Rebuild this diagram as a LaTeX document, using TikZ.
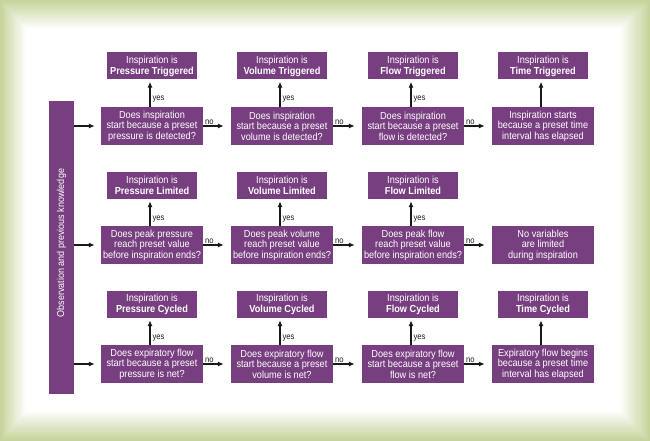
\documentclass[tikz,border=0pt]{standalone}
\usepackage{fontspec}
\setmainfont{Liberation Sans}[FakeStretch=0.9]
\usetikzlibrary{arrows.meta}
\definecolor{purp}{RGB}{119,63,127}
\definecolor{bggreen}{RGB}{196,212,154}
\definecolor{arrcol}{RGB}{25,25,25}
\begin{document}
\begin{tikzpicture}[x=1pt,y=-1pt,
  qbox/.style={fill=purp, text=white, minimum width=102pt, minimum height=38pt, inner sep=0.5pt, align=center, font=\fontsize{10.2}{10.4}\selectfont},
  rbox/.style={fill=purp, text=white, minimum width=90pt, minimum height=27pt, inner sep=0.5pt, align=center, font=\fontsize{10.2}{10.8}\selectfont},
  barbox/.style={fill=purp, minimum width=25pt, minimum height=293pt, inner sep=0pt},
  arr/.style={draw=arrcol, -{Latex[length=6pt,width=5pt]}, line width=1.1pt},
  lab/.style={text=arrcol, font=\fontsize{8.5}{8.5}\selectfont, inner sep=1pt}]
\useasboundingbox (0,0) rectangle (650,441);
% background
\fill[bggreen] (0,0) rectangle (650,441);
\foreach \i in {0,...,29}{
  \pgfmathtruncatemacro\p{100-\i*100/29}
  \fill[bggreen!\p!white] (\i*0.9,\i*1.0) rectangle (650-\i*1.05,441-\i*1.05);
}
% side bar
\node[barbox] (bar) at (61.5,247.5) {};
\node[rotate=90, text=white, font=\fontsize{10}{10}\selectfont, inner sep=0pt] (bartext) at (61.5,243) {Observation and previous knowledge};
% row 1
\node[qbox] (q1a) at (152,126) {Does inspiration\\start because a preset\\pressure is detected?};
\node[qbox] (q1b) at (282,126) {Does inspiration\\start because a preset\\volume is detected?};
\node[qbox] (q1c) at (413,126) {Does inspiration\\start because a preset\\flow is detected?};
\node[qbox] (q1d) at (543,126) {Inspiration starts\\because a preset time\\interval has elapsed};
\node[rbox] (r1a) at (152,66) {Inspiration is\\\textbf{Pressure Triggered}};
\node[rbox] (r1b) at (282,66) {Inspiration is\\\textbf{Volume Triggered}};
\node[rbox] (r1c) at (413,66) {Inspiration is\\\textbf{Flow Triggered}};
\node[rbox] (r1d) at (543,66) {Inspiration is\\\textbf{Time Triggered}};
% row 2
\node[qbox] (q2a) at (152,245) {Does peak pressure\\reach preset value\\before inspiration ends?};
\node[qbox] (q2b) at (282,245) {Does peak volume\\reach preset value\\before inspiration ends?};
\node[qbox] (q2c) at (413,245) {Does peak flow\\reach preset value\\before inspiration ends?};
\node[qbox] (q2d) at (543,245) {No variables\\are limited\\during inspiration};
\node[rbox] (r2a) at (152,185.5) {Inspiration is\\\textbf{Pressure Limited}};
\node[rbox] (r2b) at (282,185.5) {Inspiration is\\\textbf{Volume Limited}};
\node[rbox] (r2c) at (413,185.5) {Inspiration is\\\textbf{Flow Limited}};
% row 3
\node[qbox] (q3a) at (152,364) {Does expiratory flow\\start because a preset\\pressure is net?};
\node[qbox] (q3b) at (282,364) {Does expiratory flow\\start because a preset\\volume is net?};
\node[qbox] (q3c) at (413,364) {Does expiratory flow\\start because a preset\\flow is net?};
\node[qbox] (q3d) at (543,364) {Expiratory flow begins\\because a preset time\\interval has elapsed};
\node[rbox] (r3a) at (152,304.5) {Inspiration is\\\textbf{Pressure Cycled}};
\node[rbox] (r3b) at (282,304.5) {Inspiration is\\\textbf{Volume Cycled}};
\node[rbox] (r3c) at (413,304.5) {Inspiration is\\\textbf{Flow Cycled}};
\node[rbox] (r3d) at (543,304.5) {Inspiration is\\\textbf{Time Cycled}};
% arrows from bar
\foreach \r in {1,2,3}{
  \draw[arr, shorten >=6pt] (bar.east |- q\r a.west) -- (q\r a.west);
}
% horizontal "no" arrows
\foreach \r in {1,2,3}{
  \foreach \s/\t in {a/b,b/c,c/d}{
    \draw[arr, shorten >=7pt] (q\r\s.east) -- node[lab, pos=0, anchor=south west, inner sep=0.8pt, xshift=0.5pt]{no} (q\r\t.west);
  }
}
% vertical "yes" arrows
\foreach \r/\c in {1/a,1/b,1/c,2/a,2/b,2/c,3/a,3/b,3/c}{
  \draw[arr, shorten >=2pt] ([xshift=-2pt]q\r\c.north) -- node[lab, pos=0.27, right, xshift=1pt]{yes} ([xshift=-2pt]r\r\c.south);
}
\draw[arr, shorten >=2pt] ([xshift=-2pt]q1d.north) -- ([xshift=-2pt]r1d.south);
\draw[arr, shorten >=2pt] ([xshift=-2pt]q3d.north) -- ([xshift=-2pt]r3d.south);
\end{tikzpicture}
\end{document}
